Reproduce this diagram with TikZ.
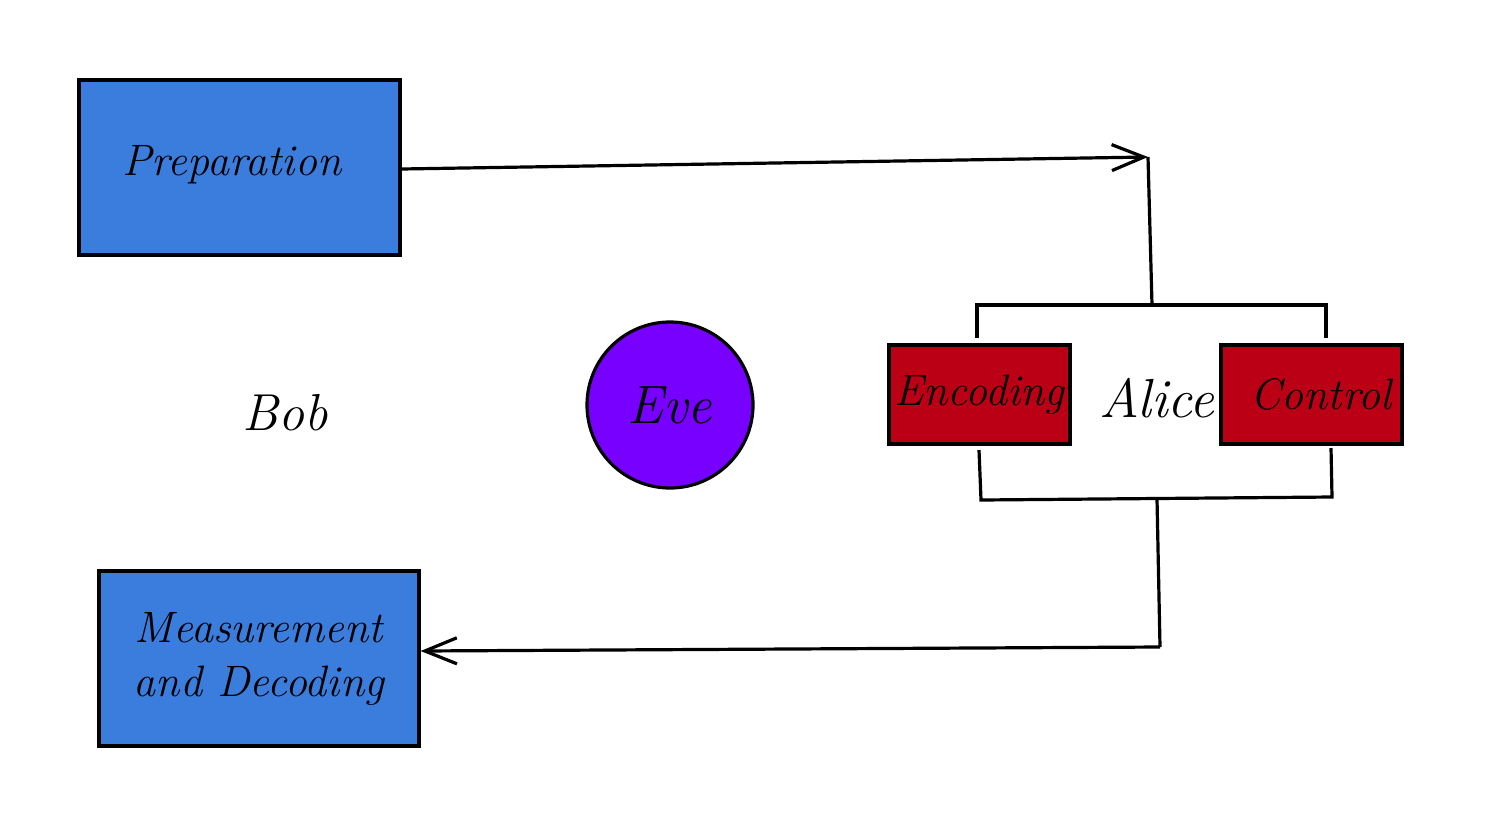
\documentclass[tikz,border=0pt]{standalone}
\usetikzlibrary{arrows.meta}
\definecolor{boxblue}{HTML}{3B7DDD}
\definecolor{boxred}{HTML}{BB0016}
\definecolor{evepurple}{HTML}{7700FF}
\begin{document}
\begin{tikzpicture}[x=1pt,y=-1pt,
  lbl/.style={font=\fontsize{44}{54}\selectfont\itshape},
  bluebox/.style={draw=black,line width=3.2pt,fill=boxblue,inner sep=0pt,lbl,align=center},
  redbox/.style={draw=black,line width=3.2pt,fill=boxred,inner sep=0pt,font=\fontsize{44}{50}\selectfont\itshape},
  wire/.style={line width=3.2pt},
  arr/.style={wire,-{Straight Barb[length=32pt,width=26pt,line width=3.2pt]}}]
\useasboundingbox (0,0) rectangle (1487,828);
\node[bluebox,minimum width=321pt,minimum height=175pt] (prep) at (239.5,167.5) {};
\node[lbl] (preptext) at (232,165) {Preparation};
\node[bluebox,minimum width=320pt,minimum height=175pt] (meas) at (259,658.5) {Measurement\\and Decoding};
\node[font=\fontsize{52}{58}\selectfont\itshape] (bob) at (285,413) {Bob};
\node[circle,draw=black,line width=3.2pt,fill=evepurple,minimum size=166pt,inner sep=0pt,font=\fontsize{54}{60}\selectfont\itshape] (eve) at (670,405) {Eve};
\node[redbox,minimum width=181pt,minimum height=99pt] (enc) at (979.5,394.5) {Encoding};
\node[redbox,minimum width=181pt,minimum height=99pt] (ctrl) at (1311.5,394.5) {};
\node[font=\fontsize{44}{50}\selectfont\itshape] (ctrltext) at (1321,394.5) {Control};
\node[font=\fontsize{55}{60}\selectfont\itshape] (alice) at (1157,398) {Alice};
\coordinate (tl) at (977,338);
\coordinate (tlc) at (977,305);
\coordinate (trc) at (1326,305);
\coordinate (tr) at (1326,338);
\coordinate (tm) at (1152,305);
\coordinate (top) at (1148,157);
\coordinate (bl) at (979,450);
\coordinate (blc) at (981,500);
\coordinate (brc) at (1332,497);
\coordinate (br) at (1331,448);
\coordinate (bm) at (1157,499);
\coordinate (bot) at (1160,647);
\draw[wire] (tl) -- (tlc) -- (trc) -- (tr);
\draw[wire] (bl) -- (blc) -- (brc) -- (br);
\draw[wire] (tm) -- (top);
\draw[arr] (prep.east |- 0,169) -- (top);
\draw[wire] (bm) -- (bot);
\draw[arr] (bot) -- (meas.east |- 0,651);
\end{tikzpicture}
\end{document}
